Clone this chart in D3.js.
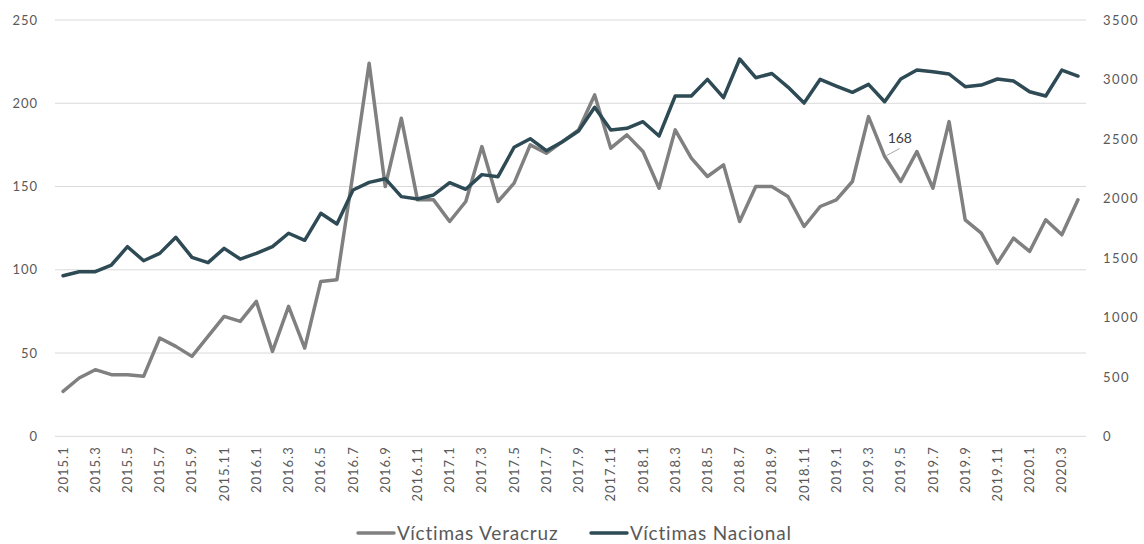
<!DOCTYPE html>
<html>
<head>
<meta charset="utf-8">
<script src="https://cdn.jsdelivr.net/npm/d3@7"></script>
<style>
  body { margin: 0; background: #fff; }
  text { font-family: Lato, "Open Sans", sans-serif; }
</style>
</head>
<body>
<div id="chart"></div>
<script>
// months, 2015.1 .. 2020.4
var months = [
  "2015.1","2015.2","2015.3","2015.4","2015.5","2015.6","2015.7","2015.8","2015.9","2015.10","2015.11","2015.12",
  "2016.1","2016.2","2016.3","2016.4","2016.5","2016.6","2016.7","2016.8","2016.9","2016.10","2016.11","2016.12",
  "2017.1","2017.2","2017.3","2017.4","2017.5","2017.6","2017.7","2017.8","2017.9","2017.10","2017.11","2017.12",
  "2018.1","2018.2","2018.3","2018.4","2018.5","2018.6","2018.7","2018.8","2018.9","2018.10","2018.11","2018.12",
  "2019.1","2019.2","2019.3","2019.4","2019.5","2019.6","2019.7","2019.8","2019.9","2019.10","2019.11","2019.12",
  "2020.1","2020.2","2020.3","2020.4"
];

var veracruz = [
  27, 35, 40, 37, 37, 36, 59, 54, 48, 60, 72, 69,
  81, 51, 78, 53, 93, 94, 158, 224, 150, 191, 142, 142,
  129, 141, 174, 141, 152, 175, 170, 177, 184, 205, 173, 181,
  171, 149, 184, 167, 156, 163, 129, 150, 150, 144, 126, 138,
  142, 153, 192, 168, 153, 171, 149, 189, 130, 122, 104, 119,
  111, 130, 121, 142
];

var nacional = [
  1350, 1384, 1384, 1440, 1594, 1476, 1538, 1673, 1505, 1460, 1580, 1490,
  1538, 1594, 1707, 1648, 1875, 1785, 2071, 2135, 2166, 2015, 1995, 2029,
  2132, 2077, 2200, 2183, 2430, 2502, 2401, 2477, 2567, 2766, 2575, 2589,
  2645, 2525, 2861, 2861, 3001, 2847, 3172, 3015, 3050, 2936, 2802, 3001,
  2945, 2892, 2959, 2813, 3004, 3079, 3065, 3046, 2939, 2953, 3004, 2987,
  2897, 2861, 3079, 3029
];

var leftTicks = [0, 50, 100, 150, 200, 250];
var rightTicks = [0, 500, 1000, 1500, 2000, 2500, 3000, 3500];
var seriesNames = ["Víctimas Veracruz", "Víctimas Nacional"];
var seriesColors = ["#808080", "#2d4a55"];
var labelIndex = 51;  // the one point with a data label (2019.4 = 168)

var svgWidth = 1144;
var svgHeight = 544;
var plot = { left: 55, right: 1086, top: 20, bottom: 436.3 };

var svg = d3.select("#chart")
  .append("svg")
  .attr("width", svgWidth)
  .attr("height", svgHeight);

var x = d3.scaleBand()
  .domain(months)
  .range([plot.left, plot.right]);

var yLeft = d3.scaleLinear()
  .domain([0, 250])
  .range([plot.bottom, plot.top]);

var yRight = d3.scaleLinear()
  .domain([0, 3500])
  .range([plot.bottom, plot.top]);

var cx = d => x(d) + x.bandwidth() / 2;

// gridlines (left axis)
svg.append("g")
  .selectAll("line")
  .data(leftTicks)
  .enter()
  .append("line")
  .attr("x1", plot.left)
  .attr("x2", plot.right)
  .attr("y1", d => yLeft(d))
  .attr("y2", d => yLeft(d))
  .attr("stroke", "#d9d9d9")
  .attr("stroke-width", 1);

// left axis
var leftAxis = d3.axisLeft(yLeft).tickValues(leftTicks).tickSize(0).tickPadding(0);
svg.append("g")
  .attr("transform", "translate(38,0)")
  .call(leftAxis)
  .call(g => g.select(".domain").remove())
  .selectAll("text")
  .attr("font-size", 13)
  .attr("fill", "#595959")
  .attr("letter-spacing", "1px")
  .attr("font-family", "Lato, sans-serif");

// right axis
var rightAxis = d3.axisRight(yRight)
  .tickValues(rightTicks)
  .tickFormat(d3.format("d"))
  .tickSize(0)
  .tickPadding(0);
svg.append("g")
  .attr("transform", "translate(1103,0)")
  .call(rightAxis)
  .call(g => g.select(".domain").remove())
  .selectAll("text")
  .attr("font-size", 13)
  .attr("fill", "#595959")
  .attr("letter-spacing", "1.5px")
  .attr("font-family", "Lato, sans-serif");

// x axis labels every second month
var bottomAxis = d3.axisBottom(x)
  .tickValues(months.filter((d, i) => i % 2 === 0))
  .tickSize(0)
  .tickPadding(0);
svg.append("g")
  .attr("transform", `translate(0, ${plot.bottom})`)
  .call(bottomAxis)
  .call(g => g.select(".domain").remove())
  .selectAll("text")
  .attr("font-size", 13)
  .attr("fill", "#595959")
  .attr("font-family", "Lato, sans-serif")
  .attr("letter-spacing", "1px")
  .attr("transform", "rotate(-90)")
  .attr("text-anchor", "end")
  .attr("x", -10)
  .attr("y", 0)
  .attr("dy", "0.35em");

// lines
var lineLeft = d3.line()
  .x((d, i) => cx(months[i]))
  .y(d => yLeft(d));

var lineRight = d3.line()
  .x((d, i) => cx(months[i]))
  .y(d => yRight(d));

svg.append("path")
  .datum(veracruz)
  .attr("d", lineLeft)
  .attr("fill", "none")
  .attr("stroke", seriesColors[0])
  .attr("stroke-width", 3.5)
  .attr("stroke-linejoin", "round")
  .attr("stroke-linecap", "round");

svg.append("path")
  .datum(nacional)
  .attr("d", lineRight)
  .attr("fill", "none")
  .attr("stroke", seriesColors[1])
  .attr("stroke-width", 3.5)
  .attr("stroke-linejoin", "round")
  .attr("stroke-linecap", "round");

// data label with leader line
var lx = cx(months[labelIndex]);
var ly = yLeft(veracruz[labelIndex]);
svg.append("line")
  .attr("x1", lx + 2)
  .attr("y1", ly - 1)
  .attr("x2", lx + 15)
  .attr("y2", ly - 8)
  .attr("stroke", "#a6a6a6")
  .attr("stroke-width", 1);
svg.append("text")
  .attr("x", lx + 3)
  .attr("y", ly - 14)
  .attr("font-size", 14)
  .attr("fill", "#404040")
  .attr("font-family", "Lato, sans-serif")
  .text(veracruz[labelIndex]);

// legend
var legendX = [358, 591];
var legend = svg.append("g");
seriesNames.forEach(function(name, i) {
  legend.append("line")
    .attr("x1", legendX[i])
    .attr("x2", legendX[i] + 36)
    .attr("y1", 533)
    .attr("y2", 533)
    .attr("stroke", seriesColors[i])
    .attr("stroke-width", 3.5)
    .attr("stroke-linecap", "round");
  legend.append("text")
    .attr("x", legendX[i] + 39)
    .attr("y", 540)
    .attr("font-size", 19)
    .attr("fill", "#595959")
    .attr("font-family", "Lato, sans-serif")
    .attr("letter-spacing", "0.8px")
    .text(name);
});
</script>
</body>
</html>
